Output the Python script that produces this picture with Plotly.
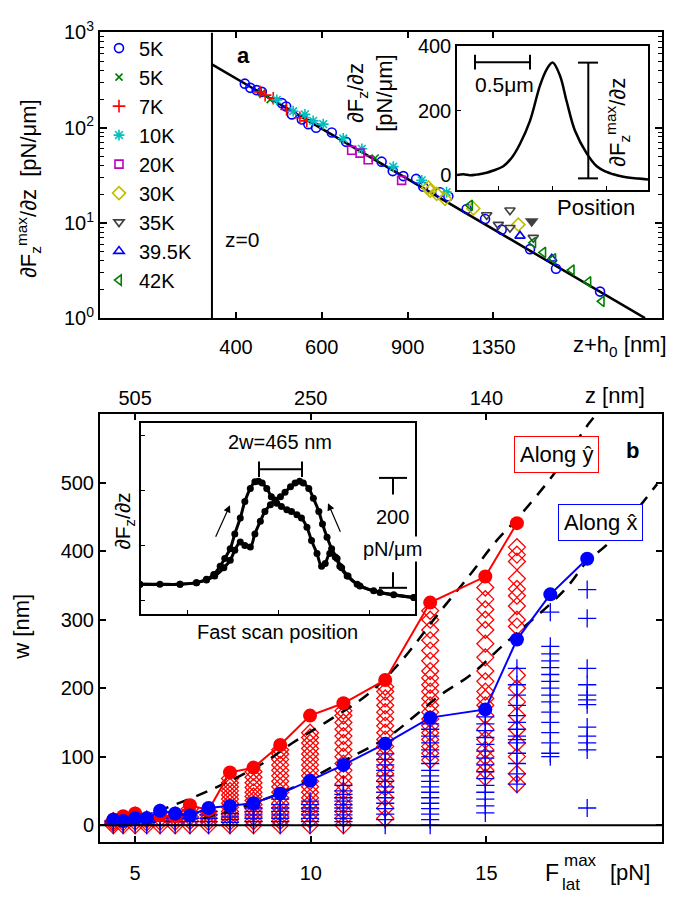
import plotly.graph_objects as go

W, H = 678, 911
FONT = "Liberation Sans, Arial, Helvetica, sans-serif"

# ---------------- Panel a : dFz^max/dz vs z+h0 ----------------
h0 = 357                       # z = 0 position [nm]
fit_x = [357, 2764]            # power-law fit end points
fit_y = [463, 1.0]

c5_x = [417, 428, 441, 452, 497, 507, 521, 546, 563, 584, 629, 673, 796, 839, 882, 937, 969,
        1049, 1091, 1190, 1298, 1404, 1605, 1815, 2235]
c5_y = [290, 262, 248, 238, 181, 167, 138, 122, 109, 100, 89, 71, 44, 35, 31, 29, 24,
        21, 19, 14, 11, 8.5, 5.3, 3.3, 1.9]
x5_x = [452, 470, 772]
x5_y = [232, 197, 48]
p7_x = [448, 459, 477, 508, 541, 559]
p7_y = [238, 220, 204, 155, 127, 118]
s10_x = [485, 524, 554, 576, 604, 664, 725, 841, 962, 1082]
s10_y = [196, 149, 138, 118, 109, 77, 60, 39, 28, 21]
q20_x = [691, 719, 747, 875]
q20_y = [58, 54, 46, 28]
d30_x = [993, 1001, 1033, 1074, 1228, 1519]
d30_y = [23.6, 21.8, 20.2, 17.9, 14.2, 9.6]
t35_x = [1308, 1382, 1460, 1460, 1630]
t35_y = [12.1, 9.6, 13.6, 8.9, 7.0]
t35f_x = [1618]
t35f_y = [10.4]
t395_x = [1531, 1779]
t395_y = [7.3, 4.2]
t42_x = [1209, 1630, 1709, 1792, 1955, 2115, 2253]
t42_y = [15.3, 6.2, 4.9, 4.2, 3.2, 2.4, 1.5]

series_names = ['5K', '5K', '7K', '10K', '20K', '30K', '35K', '39.5K', '42K']

# inset a: single peak
ins_a_pos = [-0.38, -0.32, -0.26, -0.20, -0.15, -0.105, -0.05, 0.049, 0.13, 0.204, 0.296, 0.389,
             0.451, 0.506, 0.574, 0.636, 0.713, 0.821, 0.914, 1.0, 1.068, 1.15, 1.222, 1.30, 1.389]
ins_a_val = [0, 2, -1, 1, 4, 7, 13, 27, 55, 97, 168, 278, 328, 349, 308, 228, 137, 67, 27, 10,
             2, -5, -9, -11, -14]

# ---------------- Panel b : w vs F_lat^max ----------------
F_cols = [4.38, 4.66, 5.00, 5.33, 5.71, 6.14, 6.56, 7.09, 7.70, 8.37, 9.13, 9.98, 10.93,
          12.12, 13.40, 14.97, 15.87, 16.82, 17.87]
blue_max = [8, 6, 10, 10, 21, 17, 14, 25, 28, 32, 46, 65, 88, 119, 157, 169, 271, 337, 389]
red_max = [8, 13, 17, 10, 14, 13, 29, 22, 77, 84, 117, 160, 178, 212, 325, 363, 441]

red_cols = [
    [0, 3, 6],
    [0, 4, 8],
    [0, 5, 10, 14],
    [0, 4, 8],
    [0, 5, 10],
    [0, 5, 10],
    [0, 6, 12, 18, 24],
    [0, 5, 10, 15, 20],
    [0, 5, 10, 15, 20, 26, 32, 38, 44, 50, 56, 62, 68],
    [0, 6, 12, 18, 24, 30, 36, 42, 48, 55, 62, 70, 78],
    [0, 6, 12, 18, 25, 32, 40, 48, 56, 64, 72, 80, 88, 96, 104, 110],
    [0, 8, 16, 24, 32, 40, 48, 56, 64, 72, 80, 88, 96, 104, 112, 120, 128, 135],
    [0, 10, 20, 30, 40, 50, 60, 70, 80, 90, 100, 110, 120, 130, 140, 150, 160, 167],
    [10, 25, 40, 55, 65, 75, 85, 95, 105, 115, 125, 135, 145, 155, 165, 175, 185, 195, 202],
    [95, 105, 115, 125, 135, 145, 155, 165, 175, 185, 195, 205, 215, 225, 240, 255, 270, 285, 300, 313],
    [70, 80, 90, 100, 110, 125, 140, 160, 175, 185, 195, 210, 225, 245, 265, 285, 300, 315, 330, 347],
    [60, 75, 100, 120, 140, 160, 180, 200, 219, 290, 300, 320, 335, 345, 360, 385, 395, 406],
]
blue_cols = [
    [0, 3, 6],
    [0, 3],
    [0, 4, 8],
    [0, 4, 8],
    [0, 6, 12, 18],
    [0, 5, 10, 14],
    [0, 5, 10],
    [0, 5, 10, 15, 20],
    [0, 4, 8, 12, 17],
    [0, 5, 10, 15, 20, 25],
    [0, 5, 10, 15, 20, 25, 30, 38],
    [0, 5, 10, 15, 20, 25, 30, 35],
    [0, 5, 10, 15, 20, 25, 30, 35, 40, 45, 50, 58],
    [0, 8, 16, 24, 32, 40, 48, 56, 64, 72, 80, 88, 96, 104],
    [0, 8, 16, 24, 32, 40, 48, 56, 64, 72, 80, 90, 100, 110, 120, 130, 140, 148],
    [18, 28, 38, 48, 58, 68, 78, 88, 98, 108, 118, 128, 138, 148, 158],
    [60, 75, 90, 105, 120, 125, 130, 140, 150, 160, 175, 190, 205, 229],
    [100, 105, 120, 135, 150, 165, 180, 190, 200, 210, 220, 230, 240, 250, 261, 311],
    [25, 110, 120, 130, 143, 176, 183, 190, 205, 229, 302, 344],
]

fitY_F = [5.62, 7.13, 8.56, 9.51, 10.36, 11.60, 12.55, 13.59, 14.54, 15.25, 15.97, 16.91, 17.91, 18.15]
fitY_w = [20, 51, 88, 121, 148, 190, 238, 306, 366, 413, 453, 512, 586, 601]
fitX_F = [6.94, 8.08, 9.51, 10.65, 12.26, 13.02, 13.69, 14.54, 15.44, 17.20, 17.87, 18.50, 19.86]
fitX_w = [10, 27, 55, 86, 131, 162, 190, 219, 261, 342, 385, 413, 498]

z_ticks_F = [5, 10, 15]
z_ticks_lbl = ['505', '250', '140']

# inset b: forward / backward scans
scanA_x = [0.48, 0.70, 0.92, 1.10, 1.21, 1.29, 1.36, 1.41, 1.47, 1.52, 1.58, 1.63, 1.69, 1.74, 1.78,
           1.82, 1.87, 1.92, 1.98, 2.03, 2.09, 2.14, 2.20, 2.25, 2.31, 2.36, 2.42, 2.47, 2.51, 2.56,
           2.62, 2.67, 2.75, 2.86, 3.04, 3.26, 3.48]
scanA_y = [29, 29, 29, 32, 38, 47, 62, 76, 94, 121, 150, 180, 204, 216, 217, 214, 204, 189, 177,
           171, 165, 162, 156, 150, 133, 109, 85, 62, 67, 85, 79, 62, 44, 29, 17, 10, 5]
scanB_x = [0.48, 0.92, 1.10, 1.21, 1.30, 1.40, 1.47, 1.52, 1.58, 1.63, 1.69, 1.74, 1.80, 1.85,
           1.91, 1.96, 2.02, 2.07, 2.13, 2.18, 2.23, 2.27, 2.33, 2.38, 2.44, 2.48, 2.53, 2.58,
           2.64, 2.69, 2.76, 2.89, 3.11, 3.48]
scanB_y = [29, 29, 32, 37, 44, 59, 73, 91, 106, 100, 97, 121, 144, 162, 174, 183, 189, 197, 207,
           214, 217, 214, 204, 186, 162, 139, 115, 94, 76, 59, 44, 26, 14, 5]


def PX(x):
    return x / W


def PY(y):
    return 1 - y / H


fig = go.Figure()

# ---- panel a traces
fig.add_trace(go.Scatter(x=fit_x, y=fit_y, mode='lines', line=dict(color='black', width=2.5),
                         showlegend=False, xaxis='x', yaxis='y', hoverinfo='skip'))
fig.add_trace(go.Scatter(x=[h0, h0], y=[1, 1000], mode='lines', line=dict(color='black', width=2),
                         showlegend=False, xaxis='x', yaxis='y', hoverinfo='skip'))

styles = [('circle-open', '#0000ff', 9), ('x-thin-open', '#008000', 7),
          ('cross-thin-open', '#ff0000', 9), ('asterisk-open', '#00bfbf', 9),
          ('square-open', '#bf00bf', 8), ('diamond-open', '#bfbf00', 10),
          ('triangle-down-open', '#404040', 9), ('triangle-up-open', '#0000ff', 9),
          ('triangle-left-open', '#008000', 9)]
xs = [c5_x, x5_x, p7_x, s10_x, q20_x, d30_x, t35_x, t395_x, t42_x]
ys = [c5_y, x5_y, p7_y, s10_y, q20_y, d30_y, t35_y, t395_y, t42_y]
for name, sx, sy, (sym, col, sz) in zip(series_names, xs, ys, styles):
    fig.add_trace(go.Scatter(x=sx, y=sy, mode='markers', name=name,
                             marker=dict(symbol=sym, color=col, size=sz, line=dict(color=col, width=1.6)),
                             xaxis='x', yaxis='y'))
fig.add_trace(go.Scatter(x=t35f_x, y=t35f_y, mode='markers', showlegend=False,
                         marker=dict(symbol='triangle-down', color='#404040', size=12),
                         xaxis='x', yaxis='y'))

# inset a
fig.add_trace(go.Scatter(x=ins_a_pos, y=ins_a_val, mode='lines', line=dict(color='black', width=2.5, shape='spline'),
                         showlegend=False, xaxis='x4', yaxis='y4'))

# ---- panel b traces
rx, ry = [], []
for f, col in zip(F_cols, red_cols):
    rx += [f] * len(col)
    ry += col
bx, by = [], []
for f, col in zip(F_cols, blue_cols):
    bx += [f] * len(col)
    by += col

fig.add_trace(go.Scatter(x=rx, y=ry, mode='markers', showlegend=False, xaxis='x2', yaxis='y2',
                         marker=dict(symbol='diamond-open', size=13, color='#ff0000',
                                     line=dict(color='#ff0000', width=1.3))))
fig.add_trace(go.Scatter(x=bx, y=by, mode='markers', showlegend=False, xaxis='x2', yaxis='y2',
                         marker=dict(symbol='cross-thin-open', size=13, color='#0000ff',
                                     line=dict(color='#0000ff', width=1.3))))
fig.add_trace(go.Scatter(x=fitY_F, y=fitY_w, mode='lines', showlegend=False, xaxis='x2', yaxis='y2',
                         line=dict(color='black', width=2.5, dash='12px,9px', shape='spline')))
fig.add_trace(go.Scatter(x=fitX_F, y=fitX_w, mode='lines', showlegend=False, xaxis='x2', yaxis='y2',
                         line=dict(color='black', width=2.5, dash='12px,9px', shape='spline')))
fig.add_trace(go.Scatter(x=F_cols[:len(red_max)], y=red_max, mode='lines+markers', showlegend=False,
                         xaxis='x2', yaxis='y2', line=dict(color='#ff0000', width=2),
                         marker=dict(symbol='circle', size=14, color='#ff0000')))
fig.add_trace(go.Scatter(x=F_cols, y=blue_max, mode='lines+markers', showlegend=False,
                         xaxis='x2', yaxis='y2', line=dict(color='#0000ff', width=2),
                         marker=dict(symbol='circle', size=14, color='#0000ff')))
# anchor trace for top (z) axis
fig.add_trace(go.Scatter(x=[F_cols[0]], y=[0], mode='markers', marker=dict(opacity=0),
                         showlegend=False, xaxis='x3', yaxis='y2', hoverinfo='skip'))

# inset b
for sx, sy in [(scanA_x, scanA_y), (scanB_x, scanB_y)]:
    fig.add_trace(go.Scatter(x=sx, y=sy, mode='lines+markers', showlegend=False, xaxis='x5', yaxis='y5',
                             line=dict(color='black', width=3, shape='spline'),
                             marker=dict(symbol='circle', size=7, color='black')))

# ---- axes
tf = dict(size=20, color='black', family=FONT)
common = dict(showgrid=False, zeroline=False, showline=True, linecolor='black', linewidth=2,
              mirror='ticks', ticks='inside', tickcolor='black', tickwidth=1.5, tickfont=tf)
minor_vals = [m * 10 ** e for e in range(3) for m in range(2, 10)]

layout_axes = dict(
    xaxis=dict(common, domain=[PX(100), PX(662)], type='log', range=[2.3229, 3.4764],
               tickvals=[400, 600, 900, 1350], ticktext=['400', '600', '900', '1350'],
               ticklen=6, anchor='y', ticklabelstandoff=10),
    yaxis=dict(common, domain=[PY(312.7), PY(19)], type='log', range=[0, 3],
               tickvals=[1, 10, 100, 1000],
               ticktext=['10<sup>0</sup>', '10<sup>1</sup>', '10<sup>2</sup>', '10<sup>3</sup>'],
               ticklen=7, anchor='x',
               minor=dict(tickvals=minor_vals, ticks='inside', ticklen=4, tickcolor='black', tickwidth=1)),
    xaxis2=dict(common, domain=[PX(100), PX(662)], range=[4, 20], tickvals=[5, 10, 15],
                anchor='y2', ticklen=6, ticklabelstandoff=12),
    yaxis2=dict(common, domain=[PY(851), PY(411)], range=[-24.1, 600.8],
                tickvals=[0, 100, 200, 300, 400, 500], anchor='x2', ticklen=6),
    xaxis3=dict(overlaying='x2', anchor='y2', side='top', range=[4, 20], tickvals=z_ticks_F,
                ticktext=z_ticks_lbl, ticks='inside', ticklen=6, tickcolor='black', tickwidth=1.5,
                showline=False, showgrid=False, zeroline=False, tickfont=tf, ticklabelstandoff=4),
    xaxis4=dict(domain=[PX(457), PX(648)], range=[-0.38, 1.389], anchor='y4', showline=True,
                linecolor='black', linewidth=1.5, mirror=True, ticks='inside', ticklen=4,
                tickcolor='black', tickvals=[0, 0.5, 1.0], showticklabels=False, showgrid=False,
                zeroline=False),
    yaxis4=dict(domain=[PY(181), PY(33)], range=[-46.8, 400], anchor='x4', showline=True,
                linecolor='black', linewidth=1.5, mirror=True, ticks='inside', ticklen=4,
                tickcolor='black', tickvals=[0, 200, 400], tickfont=tf, showgrid=False,
                zeroline=False),
    xaxis5=dict(domain=[PX(141), PX(415)], range=[0.493, 3.493], anchor='y5', showline=True,
                linecolor='black', linewidth=1.5, mirror=True, ticks='inside', ticklen=4,
                tickcolor='black', tickvals=[1, 2, 3], showticklabels=False, showgrid=False,
                zeroline=False),
    yaxis5=dict(domain=[PY(617), PY(421)], range=[-25.4, 322.6], anchor='x5', showline=True,
                linecolor='black', linewidth=1.5, mirror=True, ticks='inside', ticklen=4,
                tickcolor='black', tickvals=[0, 100, 200, 300], showticklabels=False,
                showgrid=False, zeroline=False),
)


def ann(text, x, y, size=20, angle=0, **kw):
    d = dict(text=text, x=PX(x), y=PY(y), xref='paper', yref='paper', showarrow=False,
             xanchor='center', yanchor='middle', textangle=angle,
             font=dict(size=size, color='black', family=FONT))
    d.update(kw)
    return d


annotations = [
    ann('∂F<sub>z</sub><sup>max</sup>/∂z  [pN/μm]', 28, 180, 22, -90),
    ann('<b>a</b>', 243, 43, 22),
    ann('z=0', 242, 232, 21),
    ann('z+h<sub>0</sub> [nm]', 620, 341, 22),
    ann('0.5μm', 504, 72, 21),
    ann('∂F<sub>z</sub><sup>max</sup>/∂z', 618, 112, 22, -90),
    ann('∂F<sub>z</sub>/∂z<br>[pN/μm]', 370, 82, 22, -90),
    ann('Position', 596, 199, 22),
    ann('z [nm]', 615, 392, 22),
    ann('<b>b</b>', 632, 449, 22),
    ann('Along ŷ', 556.7, 453, 22, bordercolor='#ff0000', borderwidth=1, borderpad=5, bgcolor='white'),
    ann('Along x̂', 600.5, 523, 22, bordercolor='#0000ff', borderwidth=1, borderpad=5, bgcolor='white'),
    ann('2w=465 nm', 280, 440, 20),
    ann('200', 392, 517, 20, bgcolor='white'),
    ann('pN/μm', 392, 550, 20, bgcolor='white'),
    ann('∂F<sub>z</sub>/∂z', 124, 522, 21, -90),
    ann('Fast scan position', 277, 635, 20),
    ann('w [nm]', 22, 630, 22, -90),
    ann('F', 551.5, 883, 23),
    ann('max', 580, 870, 17),
    ann('lat', 571, 895, 17),
    ann('[pN]', 630, 883, 22),
]
# scan direction arrows
annotations.append(dict(text='', x=PX(230), y=PY(505), ax=-15, ay=33, xref='paper', yref='paper',
                        showarrow=True, arrowhead=2, arrowsize=1.2, arrowwidth=1.2, arrowcolor='black'))
annotations.append(dict(text='', x=PX(328), y=PY(503), ax=13, ay=30, xref='paper', yref='paper',
                        showarrow=True, arrowhead=2, arrowsize=1.2, arrowwidth=1.2, arrowcolor='black'))


def seg(x0, y0, x1, y1, w=2):
    return dict(type='line', xref='paper', yref='paper', x0=PX(x0), y0=PY(y0), x1=PX(x1), y1=PY(y1),
                line=dict(color='black', width=w))


shapes = [
    # zero line in panel b
    dict(type='line', xref='x2', yref='y2', x0=4, x1=20, y0=0, y1=0, line=dict(color='black', width=2)),
    # inset a scale bars
    seg(475, 49.5, 530, 49.5), seg(475, 42, 475, 57), seg(530, 42, 530, 57),
    seg(588.3, 50, 588.3, 169), seg(578, 50, 598, 50), seg(578, 169, 598, 169),
    # inset b: 2w bar
    seg(259, 468, 302, 468), seg(259, 460, 259, 476), seg(302, 460, 302, 476),
    # inset b: 200 pN/um bar
    seg(379, 477, 407, 477), seg(393, 477, 393, 494), seg(393, 574, 393, 590), seg(379, 590, 407, 590),
]

fig.update_layout(
    width=W, height=H, margin=dict(l=0, r=0, t=0, b=0),
    paper_bgcolor='white', plot_bgcolor='rgba(0,0,0,0)',
    font=dict(family=FONT, color='black', size=20),
    showlegend=True,
    legend=dict(x=PX(99), y=PY(15), xanchor='left', yanchor='top', font=dict(size=20, color='black'),
                bgcolor='rgba(0,0,0,0)', borderwidth=0),
    annotations=annotations, shapes=shapes,
    **layout_axes,
)

fig.write_html("out.html")
